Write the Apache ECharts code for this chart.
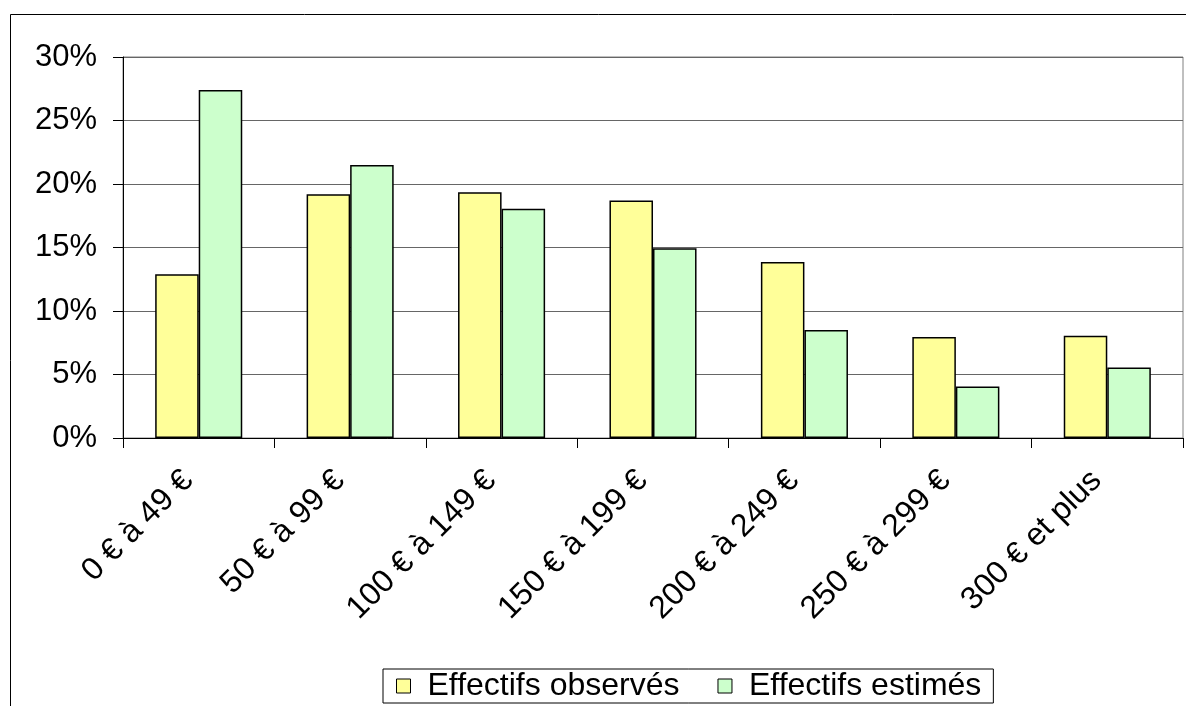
<!DOCTYPE html>
<html>
<head>
<meta charset="utf-8">
<script src="https://cdn.jsdelivr.net/npm/echarts@6/dist/echarts.min.js"></script>
<style>
html,body{margin:0;padding:0;background:#fff;}
#chart{width:1186px;height:706px;}
</style>
</head>
<body>
<div id="chart"></div>
<script>
const categories = ['0 € à 49 €','50 € à 99 €','100 € à 149 €','150 € à 199 €','200 € à 249 €','250 € à 299 €','300 € et plus'];
const observes = [12.9, 19.2, 19.35, 18.7, 13.85, 7.95, 8.05];
const estimes = [27.4, 21.5, 18.05, 14.95, 8.5, 4.05, 5.55];
const seriesNames = ['Effectifs observés','Effectifs estimés'];

const chart = echarts.init(document.getElementById('chart'), null, {renderer:'canvas'});
const font = 'Liberation Sans, Arial, sans-serif';
chart.setOption({
  animation:false,
  backgroundColor:'#fff',
  graphic:[{
    type:'rect', left:8, top:12, silent:true,
    shape:{x:0,y:0,width:1200,height:800},
    style:{fill:'none', stroke:'#000', lineWidth:1}
  }],
  grid:{left:123, right:3, top:57, bottom:268, show:true, borderColor:'#808080', borderWidth:1, containLabel:false},
  legend:{
    left:383, top:669,
    orient:'horizontal',
    data:seriesNames,
    icon:'rect',
    itemWidth:14, itemHeight:14, itemGap:38,
    padding:[1,12,1,13],
    borderColor:'#000', borderWidth:1,
    itemStyle:{borderColor:'#000', borderWidth:1},
    textStyle:{fontFamily:font, fontSize:32, color:'#000', padding:[0,0,0,12], lineHeight:32}
  },
  xAxis:{
    type:'category', data:categories,
    axisLine:{lineStyle:{color:'#000', width:1}},
    axisTick:{show:true, length:10, lineStyle:{color:'#000'}},
    axisLabel:{interval:0, rotate:45, margin:27, padding:[0,15,0,0], fontFamily:font, fontSize:32, color:'#000'},
    splitLine:{show:false}
  },
  yAxis:{
    type:'value', min:0, max:30, interval:5,
    axisLine:{show:true, lineStyle:{color:'#000', width:1}},
    axisTick:{show:true, length:10, lineStyle:{color:'#000'}},
    axisLabel:{formatter:'{value}%', margin:26, fontFamily:font, fontSize:31, color:'#000'},
    splitLine:{show:true, lineStyle:{color:'#666', width:1}}
  },
  series:[
    {name:seriesNames[0], type:'bar', data:observes, barGap:'0%', barCategoryGap:'42.5%',
     itemStyle:{color:'#FFFF99', borderColor:'#000', borderWidth:1.5}},
    {name:seriesNames[1], type:'bar', data:estimes, barGap:'0%', barCategoryGap:'42.5%',
     itemStyle:{color:'#CCFFCC', borderColor:'#000', borderWidth:1.5}}
  ]
});
</script>
</body>
</html>
